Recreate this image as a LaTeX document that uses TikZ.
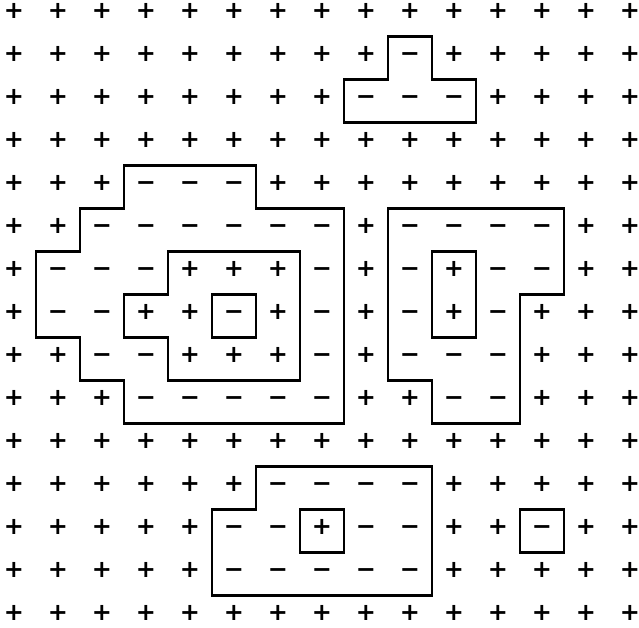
\documentclass[tikz,border=0pt]{standalone}
\usepackage{fontspec}
\newfontfamily\signfont{DejaVu Sans}[BoldFont=DejaVu Sans Bold]
\begin{document}
\begin{tikzpicture}[x=44pt,y=-43pt,
  sign/.style={inner sep=0pt,anchor=center,text height=0.64em,text depth=-0.06em,font=\signfont\bfseries\fontsize{24}{24}\selectfont},
  contour/.style={line width=2.8pt,line join=miter}]
\useasboundingbox (-14pt,15pt) rectangle (625pt,-613pt);
% signs, one row per line
\foreach \s [count=\i from 0] in {+,+,+,+,+,+,+,+,+,+,+,+,+,+,+} \node[sign] (s\i-0) at (\i,0) {\s};
\foreach \s [count=\i from 0] in {+,+,+,+,+,+,+,+,+,−,+,+,+,+,+} \node[sign] (s\i-1) at (\i,1) {\s};
\foreach \s [count=\i from 0] in {+,+,+,+,+,+,+,+,−,−,−,+,+,+,+} \node[sign] (s\i-2) at (\i,2) {\s};
\foreach \s [count=\i from 0] in {+,+,+,+,+,+,+,+,+,+,+,+,+,+,+} \node[sign] (s\i-3) at (\i,3) {\s};
\foreach \s [count=\i from 0] in {+,+,+,−,−,−,+,+,+,+,+,+,+,+,+} \node[sign] (s\i-4) at (\i,4) {\s};
\foreach \s [count=\i from 0] in {+,+,−,−,−,−,−,−,+,−,−,−,−,+,+} \node[sign] (s\i-5) at (\i,5) {\s};
\foreach \s [count=\i from 0] in {+,−,−,−,+,+,+,−,+,−,+,−,−,+,+} \node[sign] (s\i-6) at (\i,6) {\s};
\foreach \s [count=\i from 0] in {+,−,−,+,+,−,+,−,+,−,+,−,+,+,+} \node[sign] (s\i-7) at (\i,7) {\s};
\foreach \s [count=\i from 0] in {+,+,−,−,+,+,+,−,+,−,−,−,+,+,+} \node[sign] (s\i-8) at (\i,8) {\s};
\foreach \s [count=\i from 0] in {+,+,+,−,−,−,−,−,+,+,−,−,+,+,+} \node[sign] (s\i-9) at (\i,9) {\s};
\foreach \s [count=\i from 0] in {+,+,+,+,+,+,+,+,+,+,+,+,+,+,+} \node[sign] (s\i-10) at (\i,10) {\s};
\foreach \s [count=\i from 0] in {+,+,+,+,+,+,−,−,−,−,+,+,+,+,+} \node[sign] (s\i-11) at (\i,11) {\s};
\foreach \s [count=\i from 0] in {+,+,+,+,+,−,−,+,−,−,+,+,−,+,+} \node[sign] (s\i-12) at (\i,12) {\s};
\foreach \s [count=\i from 0] in {+,+,+,+,+,−,−,−,−,−,+,+,+,+,+} \node[sign] (s\i-13) at (\i,13) {\s};
\foreach \s [count=\i from 0] in {+,+,+,+,+,+,+,+,+,+,+,+,+,+,+} \node[sign] (s\i-14) at (\i,14) {\s};
% contours
\draw[contour] (8.5,0.5) -- (9.5,0.5) -- (9.5,1.5) -- (10.5,1.5) -- (10.5,2.5) -- (7.5,2.5) -- (7.5,1.5) -- (8.5,1.5) -- cycle;
\draw[contour] (2.5,3.5) -- (5.5,3.5) -- (5.5,4.5) -- (7.5,4.5) -- (7.5,9.5) -- (2.5,9.5) -- (2.5,8.5) -- (1.5,8.5) -- (1.5,7.5) -- (0.5,7.5) -- (0.5,5.5) -- (1.5,5.5) -- (1.5,4.5) -- (2.5,4.5) -- cycle;
\draw[contour] (3.5,5.5) -- (6.5,5.5) -- (6.5,8.5) -- (3.5,8.5) -- (3.5,7.5) -- (2.5,7.5) -- (2.5,6.5) -- (3.5,6.5) -- cycle;
\draw[contour] (4.5,6.5) rectangle (5.5,7.5);
\draw[contour] (8.5,4.5) -- (12.5,4.5) -- (12.5,6.5) -- (11.5,6.5) -- (11.5,9.5) -- (9.5,9.5) -- (9.5,8.5) -- (8.5,8.5) -- cycle;
\draw[contour] (9.5,5.5) rectangle (10.5,7.5);
\draw[contour] (5.5,10.5) -- (9.5,10.5) -- (9.5,13.5) -- (4.5,13.5) -- (4.5,11.5) -- (5.5,11.5) -- cycle;
\draw[contour] (6.5,11.5) rectangle (7.5,12.5);
\draw[contour] (11.5,11.5) rectangle (12.5,12.5);
\end{tikzpicture}
\end{document}
